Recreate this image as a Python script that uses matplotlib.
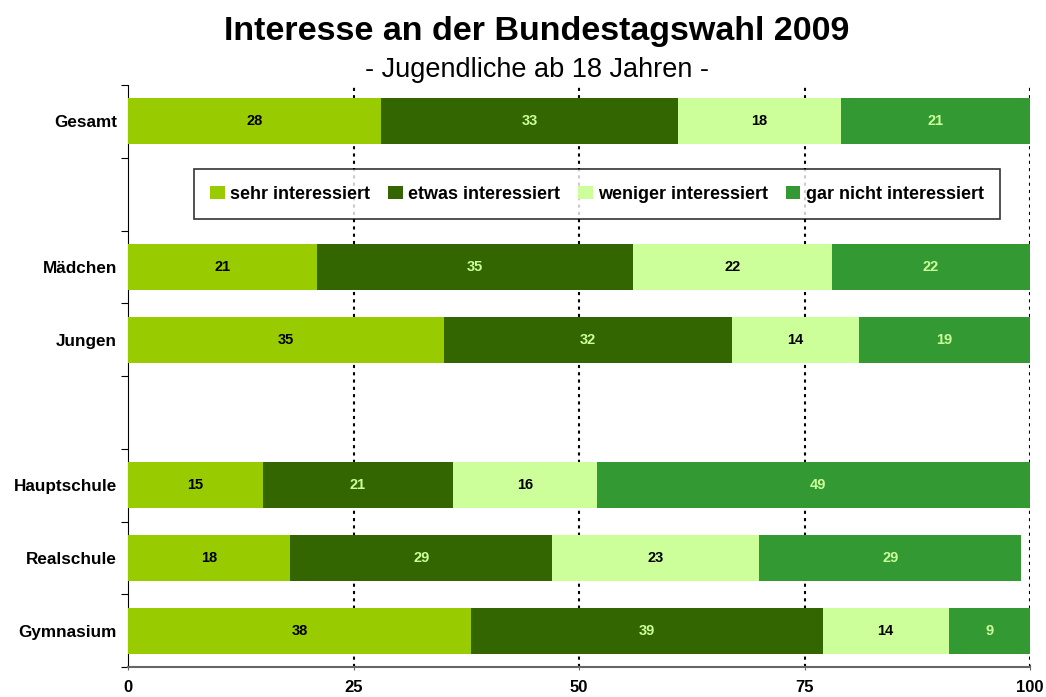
import numpy as np
import matplotlib.pyplot as plt

plt.rcParams['font.family'] = ['Liberation Sans', 'DejaVu Sans']

groups = ['Gesamt', '', 'Mädchen', 'Jungen', '', 'Hauptschule', 'Realschule', 'Gymnasium']
series = ['sehr interessiert', 'etwas interessiert', 'weniger interessiert', 'gar nicht interessiert']
sehr = [28, 0, 21, 35, 0, 15, 18, 38]
etwas = [33, 0, 35, 32, 0, 21, 29, 39]
weniger = [18, 0, 22, 14, 0, 16, 23, 14]
gar_nicht = [21, 0, 22, 19, 0, 49, 29, 9]
xticks = [0, 25, 50, 75, 100]

colors = ['#99CC00', '#336600', '#CCFF99', '#339933']
text_colors = ['black', '#CCFF99', 'black', '#CCFF99']

fig = plt.figure(figsize=(10.46, 6.97), dpi=100)
ax = fig.add_axes([0.1224, 0.043, 0.8623, 0.835])

y = np.arange(len(groups))
left = np.zeros(len(groups))
for vals, name, c, tc in zip([sehr, etwas, weniger, gar_nicht], series, colors, text_colors):
    vals = np.array(vals, dtype=float)
    bars = ax.barh(y, vals, left=left, height=0.63, color=c, label=name, zorder=3)
    for b, v in zip(bars, vals):
        if v > 0:
            ax.text(b.get_x() + b.get_width() / 2, b.get_y() + b.get_height() / 2,
                    f'{int(v)}', ha='center', va='center', fontsize=10.5,
                    fontweight='bold', color=tc, zorder=4)
    left += vals

ax.set_ylim(len(groups) - 0.5, -0.5)
ax.set_xlim(0, 100)
ax.set_yticks(np.arange(len(groups) + 1) - 0.5)
ax.set_yticklabels([])
ax.set_yticks(y, minor=True)
ax.set_yticklabels(groups, minor=True, fontsize=12.3, fontweight='bold')
ax.tick_params(axis='y', which='minor', length=0, pad=8)
ax.tick_params(axis='y', which='major', length=5, direction='out')
ax.set_xticks(xticks)
ax.set_xticklabels([str(t) for t in xticks], fontsize=12, fontweight='bold')
ax.tick_params(axis='x', length=5, direction='inout', color='#666666', pad=7)

for xv in xticks[1:]:
    ax.axvline(xv, color='black', linestyle=(0, (1.5, 2)), linewidth=1.5, zorder=2)

ax.spines['top'].set_visible(False)
ax.spines['right'].set_visible(False)
ax.spines['left'].set_color('black')
ax.spines['bottom'].set_color('#666666')
ax.spines['bottom'].set_linewidth(1.5)

leg = ax.legend(loc='center', bbox_to_anchor=(0.52, 0.8125), ncol=4, frameon=True,
                fancybox=False, edgecolor='black', handlelength=0.8, handleheight=0.8,
                handletextpad=0.3, columnspacing=1.0, borderpad=0.9,
                prop={'size': 13, 'weight': 'bold'})
leg.get_frame().set_linewidth(1.2)
leg.set_zorder(5)

fig.text(0.5135, 0.955, 'Interesse an der Bundestagswahl 2009', ha='center', va='center',
         fontsize=24.5, fontweight='bold')
fig.text(0.5135, 0.899, '- Jugendliche ab 18 Jahren -', ha='center', va='center', fontsize=19.5)

fig.savefig('out.png', dpi=100)
